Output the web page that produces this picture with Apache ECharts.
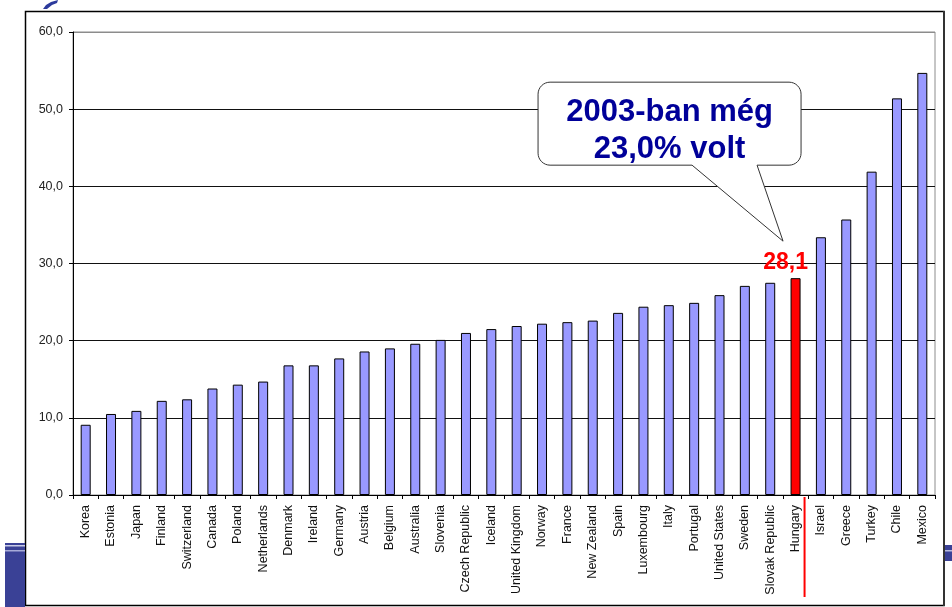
<!DOCTYPE html>
<html>
<head>
<meta charset="utf-8">
<title>OECD</title>
<script src="https://cdn.jsdelivr.net/npm/echarts@6/dist/echarts.min.js"></script>
<style>
  html, body { margin: 0; padding: 0; background: #ffffff; }
  #chart { width: 952px; height: 607px; }
</style>
</head>
<body>
<div id="chart"></div>
<script>
// Country names along the category axis
const categories = [
  'Korea', 'Estonia', 'Japan', 'Finland', 'Switzerland', 'Canada', 'Poland',
  'Netherlands', 'Denmark', 'Ireland', 'Germany', 'Austria', 'Belgium',
  'Australia', 'Slovenia', 'Czech Republic', 'Iceland', 'United Kingdom',
  'Norway', 'France', 'New Zealand', 'Spain', 'Luxembourg', 'Italy',
  'Portugal', 'United States', 'Sweden', 'Slovak Republic', 'Hungary',
  'Israel', 'Greece', 'Turkey', 'Chile', 'Mexico'
];

// One value per country
const values = [
  9.1, 10.5, 10.9, 12.2, 12.4, 13.8, 14.3, 14.7, 16.8, 16.8, 17.7, 18.6,
  19.0, 19.6, 20.1, 21.0, 21.5, 21.9, 22.2, 22.4, 22.6, 23.6, 24.4, 24.6,
  24.9, 25.9, 27.1, 27.5, 28.1, 33.4, 35.7, 41.9, 51.4, 54.7
];

// Value axis range and step
const yMin = 0;
const yMax = 60;
const yStep = 10;

// Highlighted country and its callout text
const highlight = 'Hungary';
const calloutLines = ['2003-ban még', '23,0% volt'];

const FONT = '"Liberation Sans", Arial, sans-serif';
const fmt = v => v.toFixed(1).replace('.', ',');

const chart = echarts.init(document.getElementById('chart'), null, { renderer: 'canvas' });

const seriesData = values.map((v, i) => {
  const isHi = categories[i] === highlight;
  return {
    value: v,
    itemStyle: isHi ? { color: '#ff0000', borderColor: '#000', borderWidth: 1 } : undefined,
    label: isHi ? {
      show: true,
      position: 'top',
      distance: 4,
      offset: [-10, 0],
      formatter: p => fmt(p.value),
      color: '#ff0000',
      fontFamily: FONT,
      fontWeight: 'bold',
      fontSize: 23
    } : undefined
  };
});

const nLines = (yMax - yMin) / yStep + 1;
const splitColors = Array.from({ length: nLines }, (_, i) => (i === nLines - 1 ? '#8c8c8c' : '#111111'));

chart.setOption({
  animation: false,
  backgroundColor: '#ffffff',
  grid: {
    left: 73, right: 17, top: 32, bottom: 112,
    show: true, borderColor: '#8c8c8c', borderWidth: 1, backgroundColor: 'transparent'
  },
  xAxis: {
    type: 'category',
    data: categories,
    axisLine: { lineStyle: { color: '#000', width: 1 } },
    axisTick: { show: true, length: 4, lineStyle: { color: '#000' } },
    axisLabel: {
      rotate: 90, interval: 0, margin: 10,
      fontFamily: FONT, fontSize: 12.5, color: '#111'
    }
  },
  yAxis: {
    type: 'value',
    min: yMin, max: yMax, interval: yStep,
    axisLine: { show: true, lineStyle: { color: '#000', width: 1 } },
    axisTick: { show: true, length: 4, lineStyle: { color: '#000' } },
    axisLabel: {
      formatter: v => fmt(v), margin: 10,
      fontFamily: FONT, fontSize: 12.5, color: '#222'
    },
    splitLine: { show: true, lineStyle: { color: splitColors, width: 1 } }
  },
  series: [{
    type: 'bar',
    data: seriesData,
    barWidth: 10,
    itemStyle: { color: '#9999ff', borderColor: '#000', borderWidth: 1 }
  }]
});

// Annotation graphics anchored to the highlighted bar
const hi = categories.indexOf(highlight);
const hx = chart.convertToPixel({ xAxisIndex: 0 }, highlight);
const y0 = chart.convertToPixel({ yAxisIndex: 0 }, yMin);
const yTop = chart.convertToPixel({ yAxisIndex: 0 }, values[hi]);

const tip = [hx - 12.5, yTop - 37];
const bx0 = tip[0] - 245, bx1 = tip[0] + 18;
const by0 = tip[1] - 159, by1 = tip[1] - 76;
const r = 12;
const base1 = tip[0] - 91, base2 = tip[0] - 26;

// Rounded-corner arc sampled as points (clockwise, screen coordinates)
function corner(cx, cy, a0) {
  const pts = [];
  for (let k = 0; k <= 8; k++) {
    const a = a0 + (k / 8) * Math.PI / 2;
    pts.push([cx + r * Math.cos(a), cy + r * Math.sin(a)]);
  }
  return pts;
}
const balloon = [].concat(
  corner(bx0 + r, by0 + r, Math.PI),           // top-left
  corner(bx1 - r, by0 + r, -Math.PI / 2),      // top-right
  corner(bx1 - r, by1 - r, 0),                 // bottom-right
  [[base2, by1], tip, [base1, by1]],           // pointer
  corner(bx0 + r, by1 - r, Math.PI / 2)        // bottom-left
);

chart.setOption({
  graphic: [
    // slide frame
    {
      type: 'rect', silent: true, z: 0,
      shape: { x: 25.5, y: 11.5, width: 918.5, height: 594 },
      style: { fill: 'none', stroke: '#000', lineWidth: 1.5 }
    },
    {
      type: 'line', silent: true, z: 0,
      shape: { x1: 944, y1: 11, x2: 944, y2: 606 },
      style: { stroke: '#333', lineWidth: 2 }
    },
    // slide template accents
    {
      type: 'rect', silent: true, z: 0,
      shape: { x: 5, y: 543, width: 20, height: 64 },
      style: { fill: '#3a4196' }
    },
    {
      type: 'rect', silent: true, z: 0,
      shape: { x: 5, y: 545, width: 20, height: 1.5 },
      style: { fill: '#c9cce8' }
    },
    {
      type: 'rect', silent: true, z: 0,
      shape: { x: 5, y: 550, width: 20, height: 1.5 },
      style: { fill: '#a7abd8' }
    },
    {
      type: 'rect', silent: true, z: 0,
      shape: { x: 945, y: 545, width: 7, height: 16 },
      style: { fill: '#3a4196' }
    },
    {
      type: 'rect', silent: true, z: 0,
      shape: { x: 945, y: 550, width: 7, height: 1.5 },
      style: { fill: '#b8bce0' }
    },
    {
      type: 'polygon', silent: true, z: 0,
      shape: { points: [[43, 9], [46, 5], [51, 2], [58, 0], [57, 3], [52, 5], [47, 9]] },
      style: { fill: '#2c3a9c' }
    },
    // red marker below the highlighted bar
    {
      type: 'line', silent: true, z: 10,
      shape: { x1: hx + 9, y1: y0 + 2, x2: hx + 9, y2: y0 + 102 },
      style: { stroke: '#ff0000', lineWidth: 2 }
    },
    // callout balloon
    {
      type: 'polygon', silent: true, z: 20,
      shape: { points: balloon },
      style: { fill: '#ffffff', stroke: '#333', lineWidth: 1 }
    },
    {
      type: 'text', silent: true, z: 21,
      x: (bx0 + bx1) / 2, y: (by0 + by1) / 2 + 7,
      style: {
        text: calloutLines.join('\n'),
        fill: '#000099',
        font: `bold 31px ${FONT}`,
        lineHeight: 37,
        align: 'center',
        verticalAlign: 'middle'
      }
    }
  ]
});
</script>
</body>
</html>
